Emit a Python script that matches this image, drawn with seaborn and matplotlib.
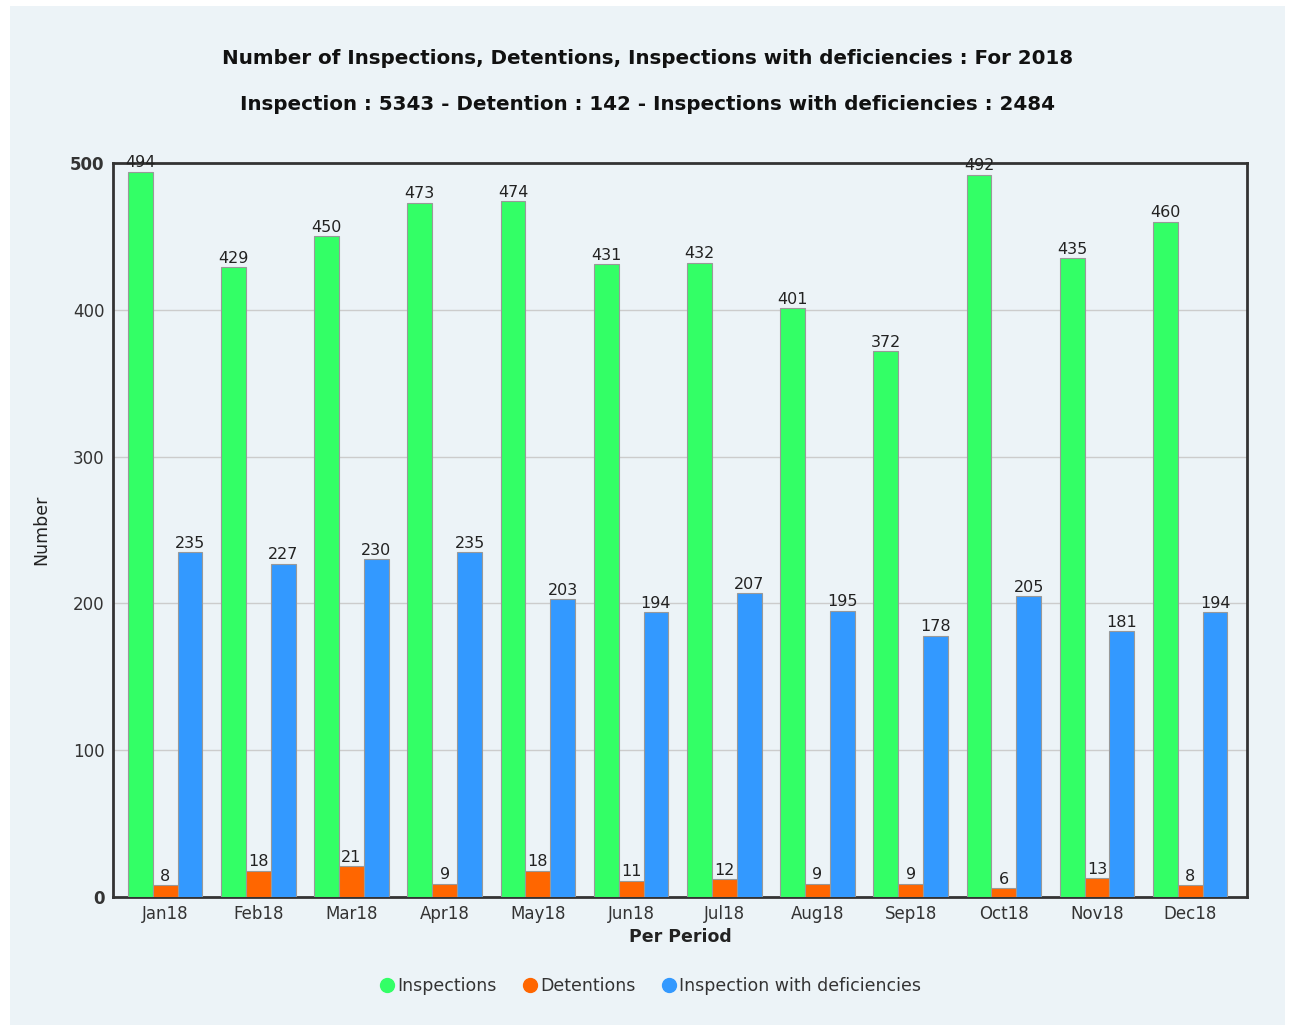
import pandas as pd
import matplotlib.pyplot as plt
import seaborn as sns
from matplotlib.lines import Line2D
from matplotlib.patches import Rectangle

# data
months = ['Jan18', 'Feb18', 'Mar18', 'Apr18', 'May18', 'Jun18',
          'Jul18', 'Aug18', 'Sep18', 'Oct18', 'Nov18', 'Dec18']
inspections = [494, 429, 450, 473, 474, 431, 432, 401, 372, 492, 435, 460]
detentions = [8, 18, 21, 9, 18, 11, 12, 9, 9, 6, 13, 8]
deficiencies = [235, 227, 230, 235, 203, 194, 207, 195, 178, 205, 181, 194]
series_names = ['Inspections', 'Detentions', 'Inspection with deficiencies']
colors = ['#33ff66', '#ff6600', '#3399ff']


def build_frame():
    rows = []
    for name, vals in zip(series_names, [inspections, detentions, deficiencies]):
        for m, v in zip(months, vals):
            rows.append({'Period': m, 'Series': name, 'Value': v})
    return pd.DataFrame(rows)


def plot_chart(df):
    sns.set_style('white')
    plt.rcParams['font.family'] = ['DejaVu Sans']

    fig = plt.figure(figsize=(12.95, 10.27), dpi=100, facecolor='white')
    # light panel behind everything
    fig.patches.append(Rectangle((10 / 1295, 2 / 1027), 1 - 20 / 1295, 1 - 8 / 1027,
                                 transform=fig.transFigure, facecolor='#ecf3f7',
                                 edgecolor='none', zorder=-10))
    ax = fig.add_axes([113 / 1295, 1 - 897 / 1027, (1247 - 113) / 1295, (897 - 163) / 1027])
    ax.set_facecolor('#ecf3f7')

    sns.barplot(data=df, x='Period', y='Value', hue='Series', palette=colors,
                width=0.8, ax=ax, legend=False, edgecolor='#999999', linewidth=0.8,
                saturation=1, zorder=3)

    for c in ax.containers:
        ax.bar_label(c, padding=1, fontsize=11.5, color='#222222')

    ax.set_ylim(0, 500)
    ax.set_xlim(-0.56, len(months) - 0.39)
    ax.set_yticks([0, 100, 200, 300, 400, 500])
    ax.yaxis.grid(True, color='#cccccc', linewidth=1, zorder=0)
    ax.set_axisbelow(True)
    for s in ax.spines.values():
        s.set_color('#333333')
        s.set_linewidth(2)
    ax.tick_params(axis='both', labelsize=12, colors='#333333', length=0, pad=6)
    for lbl in ax.get_yticklabels():
        if lbl.get_text() in ('0', '500'):
            lbl.set_fontweight('bold')

    ax.set_xlabel('Per Period', fontsize=12.5, fontweight='bold', labelpad=3, color='#222222')
    ax.set_ylabel('Number', fontsize=12.5, labelpad=14, color='#222222')

    fig.text(0.5, 1 - 58 / 1027, 'Number of Inspections, Detentions, Inspections with deficiencies : For 2018',
             ha='center', va='center', fontsize=14.3, fontweight='bold', color='#111111')
    fig.text(0.5, 1 - 104 / 1027, 'Inspection : 5343 - Detention : 142 - Inspections with deficiencies : 2484',
             ha='center', va='center', fontsize=14.3, fontweight='bold', color='#111111')

    handles = [Line2D([0], [0], marker='o', linestyle='', markersize=10,
                      markerfacecolor=c, markeredgecolor=c) for c in colors]
    fig.legend(handles, series_names, loc='center', bbox_to_anchor=(0.5, 1 - 986 / 1027),
               ncol=3, frameon=False, fontsize=12.5, handletextpad=-0.2,
               columnspacing=1.2, handlelength=1.5, labelcolor='#333333')

    fig.savefig('out.png', dpi=100, facecolor='white')


if __name__ == '__main__':
    plot_chart(build_frame())
